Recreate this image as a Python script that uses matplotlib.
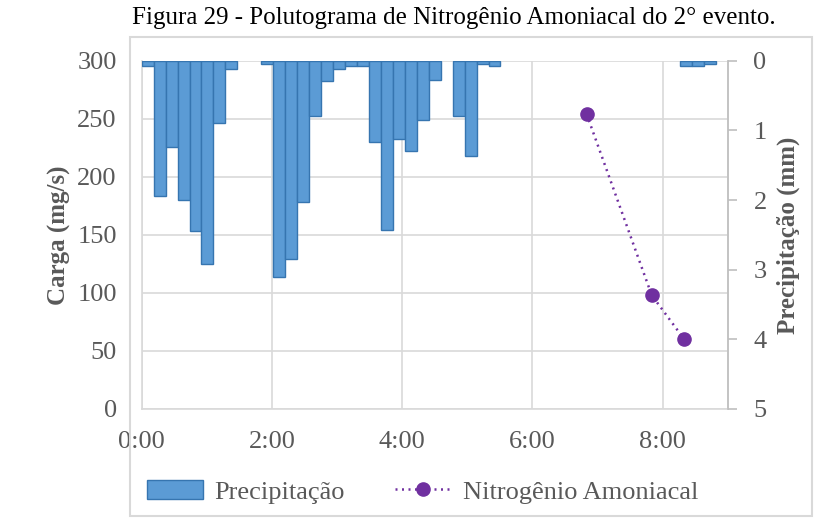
import numpy as np
import matplotlib
matplotlib.use("Agg")
import matplotlib.pyplot as plt
from matplotlib.patches import Rectangle

plt.rcParams["font.family"] = ["Liberation Serif", "DejaVu Serif"]

# Precipitação (mm) por intervalo (49 intervalos entre 0:00 e 9:00)
precipitacao = [
    0.08, 1.94, 1.24, 2.00, 2.45, 2.92, 0.90, 0.12, 0.00, 0.00,
    0.05, 3.10, 2.84, 2.03, 0.79, 0.29, 0.12, 0.08, 0.08, 1.16,
    2.43, 1.13, 1.29, 0.85, 0.28, 0.00, 0.80, 1.37, 0.05, 0.07,
    0.00, 0.00, 0.00, 0.00, 0.00, 0.00, 0.00, 0.00, 0.00, 0.00,
    0.00, 0.00, 0.00, 0.00, 0.00, 0.08, 0.08, 0.05, 0.00,
]
duracao_h = 9.0

# Nitrogênio Amoniacal (mg/s)
tempo_n = [6 + 50 / 60, 7 + 50 / 60, 8 + 20 / 60]
carga_n = [254, 98, 60]

x_ticks = [0, 2, 4, 6, 8]
x_labels = ["0:00", "2:00", "4:00", "6:00", "8:00"]

cinza = "#595959"
grade = "#d9d9d9"

fig = plt.figure(figsize=(8.19, 5.22), dpi=100)
ax = fig.add_axes([0.1730, 0.2165, 0.7155, 0.6672])
ax2 = ax.twinx()

largura = duracao_h / len(precipitacao)
prec = np.array(precipitacao)
pos = np.arange(len(prec)) * largura
tem = prec > 0
barras = ax2.bar(pos[tem], prec[tem], width=largura, align="edge",
                 color="#5b9bd5", edgecolor="#3675b0", linewidth=1.0,
                 label="Precipitação")
ax2.set_ylim(5, 0)
ax2.set_yticks(range(6))

ln, = ax.plot(tempo_n, carga_n, color="#7030a0", linestyle=(0, (0.8, 1.8)),
              linewidth=1.8, marker="o", markersize=9.5,
              label="Nitrogênio Amoniacal")
ax.set_xlim(0, duracao_h)
ax.set_ylim(0, 300)
ax.set_yticks(range(0, 301, 50))
ax.set_xticks(x_ticks)
ax.set_xticklabels(x_labels)

ax.grid(True, color=grade, linewidth=1.2)
ax.set_axisbelow(True)

for a in (ax, ax2):
    for s in a.spines.values():
        s.set_color(grade)
        s.set_linewidth(1.2)
ax.spines["top"].set_visible(False)
ax2.spines["top"].set_visible(False)
ax2.spines["left"].set_visible(False)
ax2.spines["bottom"].set_visible(False)
ax2.spines["right"].set_color("#bfbfbf")

ax.tick_params(axis="y", length=0, pad=18, labelsize=19, labelcolor=cinza)
ax.tick_params(axis="x", length=0, pad=16, labelsize=19, labelcolor=cinza)
ax2.tick_params(axis="y", length=6.5, width=1.2, color="#bfbfbf", pad=12,
                labelsize=19, labelcolor=cinza)

ax.set_ylabel("Carga (mg/s)", fontsize=18, fontweight="bold", color=cinza)
ax.yaxis.set_label_coords(-0.12, 0.5)
ax2.set_ylabel("Precipitação (mm)", fontsize=18, fontweight="bold", color=cinza)
ax2.yaxis.set_label_coords(1.084, 0.5)

leg = fig.legend([barras[0], ln], ["Precipitação", "Nitrogênio Amoniacal"],
                 loc="center", bbox_to_anchor=(0.516, 0.0575), ncol=2,
                 frameon=False, fontsize=19, handlelength=2.1,
                 columnspacing=1.9, handletextpad=0.45)
for t in leg.get_texts():
    t.set_color(cinza)

fig.patches.append(Rectangle((130 / 819, 1 - 516 / 522), 682 / 819, 479 / 522,
                             transform=fig.transFigure, fill=False,
                             edgecolor=grade, linewidth=1.5))

fig.text(0.554, 1 - 18 / 522, "Figura 29 - Polutograma de Nitrogênio Amoniacal do 2° evento.",
         ha="center", va="center", fontsize=18, color="black")

fig.savefig("out.png", dpi=100)
